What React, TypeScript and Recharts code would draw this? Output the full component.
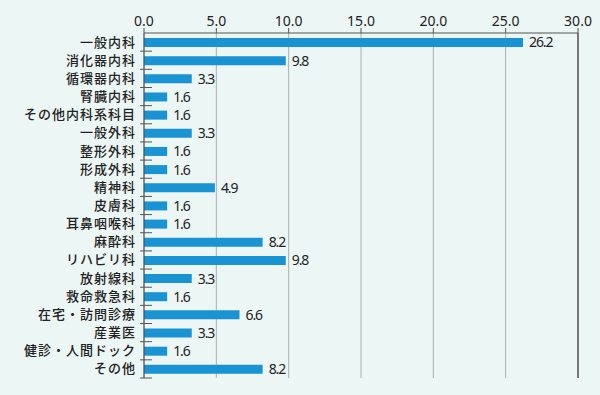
import { BarChart, Bar, XAxis, YAxis, CartesianGrid, LabelList, ReferenceLine } from "recharts";

const categories = [
  "一般内科",
  "消化器内科",
  "循環器内科",
  "腎臓内科",
  "その他内科系科目",
  "一般外科",
  "整形外科",
  "形成外科",
  "精神科",
  "皮膚科",
  "耳鼻咽喉科",
  "麻酔科",
  "リハビリ科",
  "放射線科",
  "救命救急科",
  "在宅・訪問診療",
  "産業医",
  "健診・人間ドック",
  "その他",
];

const values = [26.2, 9.8, 3.3, 1.6, 1.6, 3.3, 1.6, 1.6, 4.9, 1.6, 1.6, 8.2, 9.8, 3.3, 1.6, 6.6, 3.3, 1.6, 8.2];

const xTicks = [0, 5, 10, 15, 20, 25, 30];

const data = categories.map((name, i) => ({ name, value: values[i] }));

const W = 600;
const H = 395;
const TOP = 33;
const BOTTOM = 17;
const AXIS_X = 144;
const band = (H - TOP - BOTTOM) / categories.length;

const jpFont = "'Noto Sans CJK JP', 'Noto Sans', sans-serif";
const numFont = "'Noto Sans', 'DejaVu Sans', sans-serif";

// label right-aligned at a fixed gap from the axis, plus the band separator tick
function CategoryTick(props: any) {
  const { y, payload } = props;
  return (
    <g>
      <text
        x={AXIS_X - 8}
        y={y}
        dy={4.5}
        textAnchor="end"
        fontSize={13}
        fontWeight={500}
        letterSpacing={1}
        fill="#222"
        fontFamily={jpFont}
      >
        {payload.value}
      </text>
      <line x1={AXIS_X - 4} x2={AXIS_X + 8} y1={y + band / 2} y2={y + band / 2} stroke="#555" strokeWidth={1} />
    </g>
  );
}

export default function App() {
  return (
    <div style={{ position: "absolute", left: 0, top: 0, width: W, height: H, background: "#ecf6f5" }}>
      <BarChart
        width={W}
        height={H}
        data={data}
        layout="vertical"
        margin={{ top: 0, right: 22, bottom: BOTTOM, left: 0 }}
      >
        <CartesianGrid horizontal={false} stroke="#a9b1b1" strokeWidth={1} />
        <XAxis
          type="number"
          orientation="top"
          domain={[0, 30]}
          ticks={xTicks}
          height={TOP}
          tickFormatter={(v: number) => v.toFixed(1)}
          axisLine={{ stroke: "#555" }}
          tickLine={{ stroke: "#555" }}
          tickSize={5}
          tick={{ fontSize: 14, fill: "#222", fontFamily: numFont }}
          interval={0}
        />
        <XAxis
          xAxisId="b"
          type="number"
          orientation="bottom"
          domain={[0, 30]}
          height={0}
          tick={false}
          tickLine={false}
          axisLine={{ stroke: "#666", strokeWidth: 1.5 }}
        />
        <YAxis
          type="category"
          dataKey="name"
          width={AXIS_X}
          axisLine={{ stroke: "#444" }}
          tickLine={false}
          tick={<CategoryTick />}
          interval={0}
        />
        <ReferenceLine x={30} stroke="#777" strokeWidth={2} />
        <Bar dataKey="value" fill="#1a93d3" barSize={9} isAnimationActive={false}>
          <LabelList
            dataKey="value"
            position="right"
            offset={6}
            formatter={(v: any) => Number(v).toFixed(1)}
            style={{ fontSize: 14, fill: "#222", fontFamily: numFont, letterSpacing: -1.1 }}
          />
        </Bar>
      </BarChart>
    </div>
  );
}
